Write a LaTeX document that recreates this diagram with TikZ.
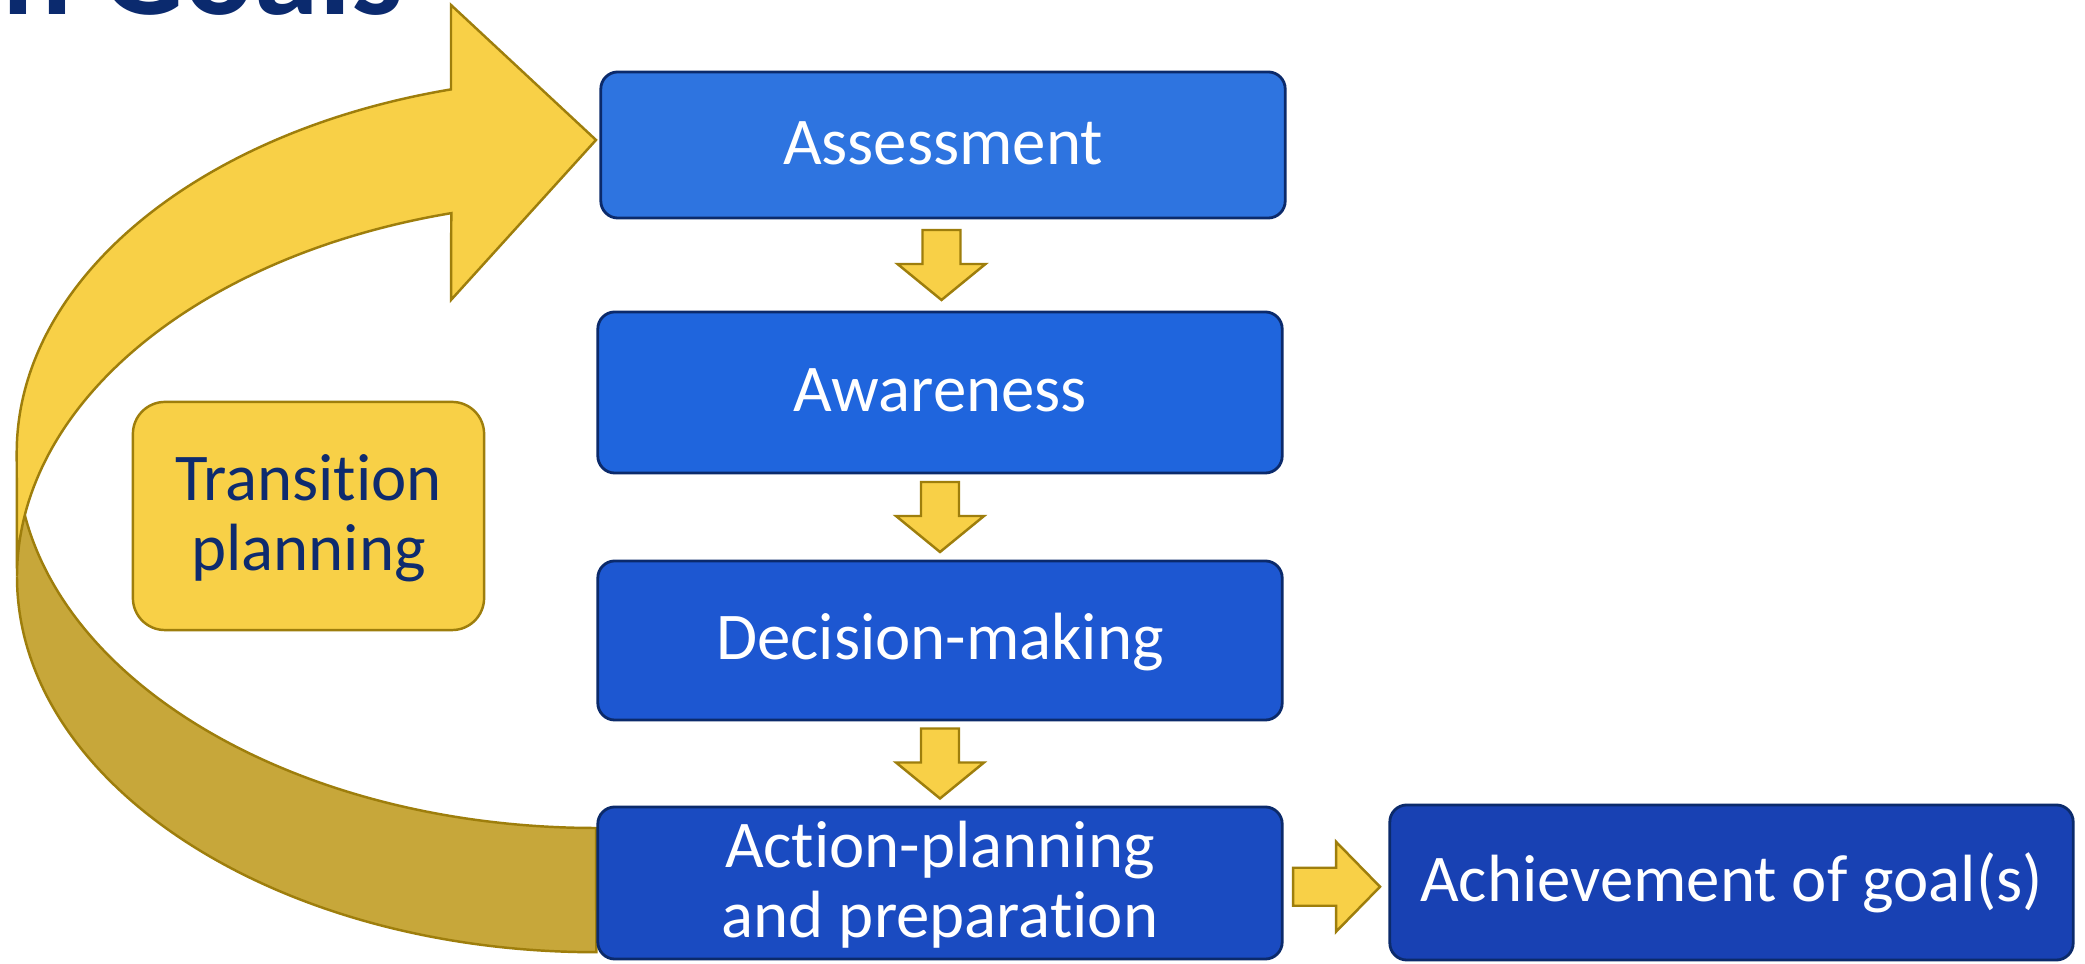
\documentclass[tikz,border=0pt]{standalone}
\usepackage{fontspec}
\setmainfont{Carlito}[Ligatures={NoCommon}]
\usetikzlibrary{calc}
\definecolor{assessblue}{HTML}{2E74E0}
\definecolor{awareblue}{HTML}{1F65DD}
\definecolor{decisionblue}{HTML}{1D57D1}
\definecolor{actionblue}{HTML}{1A4BC1}
\definecolor{achieveblue}{HTML}{1841B3}
\definecolor{navyline}{HTML}{0B2A6B}
\definecolor{yfill}{HTML}{F8D047}
\definecolor{yback}{HTML}{C7A73A}
\definecolor{yline}{HTML}{9E7E0C}
\definecolor{tnavy}{HTML}{0E2B6E}
\definecolor{titleblue}{HTML}{0B2A6E}
\tikzset{
  bluebox/.style={draw=navyline, line width=0.8pt, rounded corners=0.17cm,
    minimum width=6.84cm, text=white, font=\fontsize{19}{20}\selectfont,
    align=center, text height=11pt, text depth=0pt, inner sep=0pt},
  transbox/.style={draw=yline, fill=yfill, line width=0.7pt, rounded corners=0.32cm,
    minimum width=3.51cm, minimum height=2.28cm, text=tnavy,
    font=\fontsize{19}{20}\selectfont, align=center, text height=11pt,
    text depth=0pt, inner sep=0pt},
  twoline/.style={text height=31pt},
  yarrow/.style={fill=yfill, draw=yline, line width=0.7pt, line join=miter},
  bandline/.style={draw=yline, line width=0.7pt, line join=miter},
}
\newcommand\vblockarrow[2]{%
  \path ($(#1.south)!0.5!(#2.north)$) coordinate (m#1);
  \draw[yarrow] ($(m#1)+(-19,35)$) -- ++(38,0) -- ++(0,-34) -- ++(25,0)
    -- ++(-44,-36) -- ++(-44,36) -- ++(25,0) -- cycle;}
\begin{document}
\begin{tikzpicture}[x=0.01cm,y=0.01cm]
\useasboundingbox (0,0) rectangle (2085,964);
\clip (0,0) rectangle (2085,964);
\fill[white] (0,0) rectangle (2085,964);

% cut-off title
\node[anchor=base west, inner sep=0pt, text=titleblue,
  font=\fontsize{37}{40}\selectfont\bfseries] (title) at (2,949) {n Goals};

% curved arrow: back (darker) part
\fill[yback] (596,136) arc[start angle=270, end angle=180, x radius=5.79cm, y radius=3.753cm]
  -- (17,387.3) arc[start angle=180, end angle=270, x radius=5.79cm, y radius=3.753cm] -- cycle;
\draw[bandline] (17,387.3) arc[start angle=180, end angle=270, x radius=5.79cm, y radius=3.753cm]
  -- (596,136) arc[start angle=270, end angle=189.51, x radius=5.79cm, y radius=3.753cm];
% front (lighter) part with head
\draw[bandline, fill=yfill] (17,387.3) arc[start angle=180, end angle=104.5, x radius=5.79cm, y radius=3.753cm]
  -- (451,664) -- (596,824) -- (451,959) -- (451,874.6)
  arc[start angle=104.5, end angle=180, x radius=5.79cm, y radius=3.753cm] -- cycle;

% transition planning
\node[transbox, twoline] (trans) at (308.5,448) {Transition\\planning};

% blue boxes
\node[bluebox, fill=assessblue, minimum height=1.46cm] (assess) at (943,819) {Assessment};
\node[bluebox, fill=awareblue, minimum height=1.61cm] (aware) at (940,571.5) {Awareness};
\node[bluebox, fill=decisionblue, minimum height=1.59cm] (decide) at (940,323.5) {Decision-making};
\node[bluebox, twoline, fill=actionblue, minimum height=1.52cm] (action) at (940,81) {Action-planning\\and preparation};
\node[bluebox, fill=achieveblue, minimum width=6.83cm, minimum height=1.55cm] (achieve) at (1731.5,81.5) {Achievement of goal(s)};

% block arrows between boxes
\vblockarrow{assess}{aware}
\vblockarrow{aware}{decide}
\vblockarrow{decide}{action}
\path ($(action.east)!0.5!(achieve.west)$) coordinate (mh);
\draw[yarrow] ($(mh)+(-43,15)$) -- ++(43,0) -- ++(0,26) -- ++(44,-45)
  -- ++(-44,-45) -- ++(0,26) -- ++(-43,0) -- cycle;
\end{tikzpicture}
\end{document}
